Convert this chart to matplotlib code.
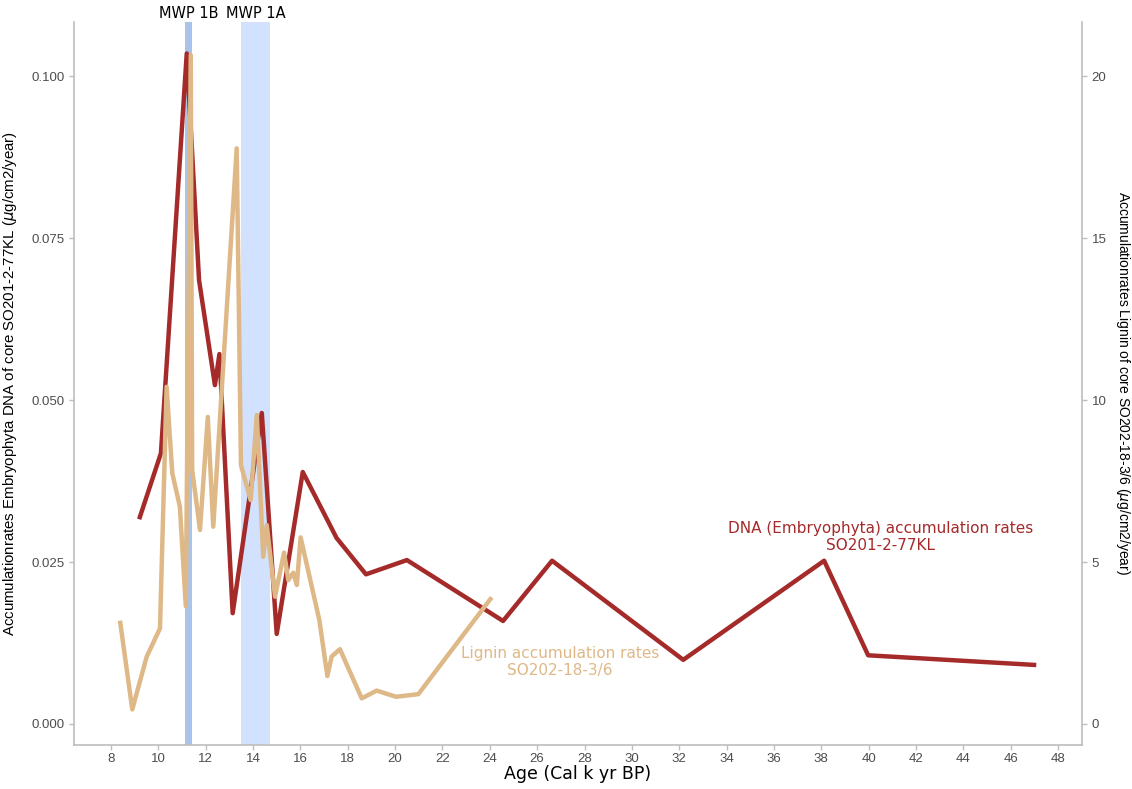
import matplotlib
matplotlib.use("Agg")
import matplotlib.pyplot as plt
import numpy as np

# DNA (Embryophyta) accumulation rates, core SO201-2-77KL
dna_age = [9.19, 10.11, 11.20, 11.72, 12.39, 12.58, 13.14, 14.37, 15.00, 16.10,
           17.53, 18.77, 20.50, 24.56, 26.63, 32.17, 38.12, 39.98, 47.08]
dna_rate = [0.0316, 0.0418, 0.1035, 0.0685, 0.0523, 0.0571, 0.0171, 0.0480, 0.0139, 0.0389,
            0.0287, 0.0231, 0.0253, 0.0159, 0.0252, 0.0099, 0.0252, 0.0106, 0.0091]

# Lignin accumulation rates, core SO202-18-3/6
lignin_age = [8.38, 8.90, 9.51, 10.07, 10.35, 10.59, 10.91, 11.16, 11.37, 11.43,
              11.76, 12.09, 12.32, 13.31, 13.49, 13.90, 14.16, 14.43, 14.58, 14.93,
              15.31, 15.49, 15.70, 15.85, 16.01, 16.80, 17.14, 17.32, 17.67, 18.59,
              19.22, 20.04, 20.98, 24.08]
lignin_rate = [3.19, 0.45, 2.08, 2.95, 10.41, 7.74, 6.71, 3.64, 20.65, 7.84,
               5.99, 9.48, 6.09, 17.77, 7.99, 6.91, 9.54, 5.16, 6.14, 3.93,
               5.29, 4.44, 4.67, 4.29, 5.76, 3.21, 1.48, 2.08, 2.31, 0.79,
               1.03, 0.84, 0.92, 3.91]

# meltwater pulses (k yr BP)
mwp_names = ["MWP 1B", "MWP 1A"]
mwp_start = [11.13, 13.50]
mwp_end = [11.44, 14.70]
mwp_colors = ["#aac3e8", "#d2e1fd"]

scale = 200  # lignin units per DNA unit on the secondary axis

red = "#a52a2a"
tan = "#deb887"
grey = "#bdbdbd"
tick_col = "#4d4d4d"

fig = plt.figure(figsize=(11.32, 7.89), dpi=100)
ax = fig.add_axes([0.0654, 0.0558, 0.8904, 0.9167])

for name, x0, x1, c in zip(mwp_names, mwp_start, mwp_end, mwp_colors):
    ax.axvspan(x0, x1, color=c, lw=0, zorder=0)
    ax.text((x0 + x1) / 2, 1.0015, name, transform=ax.get_xaxis_transform(),
            ha="center", va="bottom", fontsize=10.5, family="DejaVu Sans", color="black")

ax.plot(dna_age, dna_rate, color=red, lw=3.2, solid_joinstyle="round",
        solid_capstyle="butt", zorder=3)

ax.set_xlim(6.44, 49.01)
ax.set_ylim(-0.00324, 0.1084)
ax.set_xticks(np.arange(8, 49, 2))
ax.set_yticks([0, 0.025, 0.05, 0.075, 0.1])
ax.set_yticklabels(["0.000", "0.025", "0.050", "0.075", "0.100"])

ax2 = ax.twinx()
ax2.plot(lignin_age, lignin_rate, color=tan, lw=3.2, solid_joinstyle="round",
         solid_capstyle="butt")
ax2.set_ylim(ax.get_ylim()[0] * scale, ax.get_ylim()[1] * scale)
ax2.set_yticks([0, 5, 10, 15, 20])

for a in (ax, ax2):
    for s in a.spines.values():
        s.set_visible(False)
    a.tick_params(colors=grey, labelcolor=tick_col, length=3.5, width=1,
                  labelsize=9.5)
    for lab in a.get_xticklabels() + a.get_yticklabels():
        lab.set_family("Liberation Sans")
ax.tick_params(axis="x", pad=2.5)
ax.spines["left"].set_visible(True)
ax.spines["bottom"].set_visible(True)
ax2.spines["right"].set_visible(True)
for s in (ax.spines["left"], ax.spines["bottom"], ax2.spines["right"]):
    s.set_color(grey)
    s.set_linewidth(1.2)

ax.set_xlabel("Age (Cal k yr BP)", fontsize=12.5, family="DejaVu Sans", labelpad=0)
ax.set_ylabel(r"Accumulationrates Embryophyta DNA of core SO201-2-77KL ($\mu$g/cm2/year)",
              fontsize=10.8, family="Liberation Sans", labelpad=9)
ax2.set_ylabel(r"Accumulationrates Lignin of core SO202-18-3/6 ($\mu$g/cm2/year)",
               fontsize=10, family="Liberation Sans", rotation=270, labelpad=18)

ax.text(40.49, 0.0289, "DNA (Embryophyta) accumulation rates\nSO201-2-77KL",
        color=red, ha="center", va="center", fontsize=11, family="DejaVu Sans",
        linespacing=1.2)
ax.text(26.97, 0.0096, "Lignin accumulation rates\nSO202-18-3/6",
        color=tan, ha="center", va="center", fontsize=11, family="DejaVu Sans",
        linespacing=1.2)

fig.savefig("out.png", dpi=100)
